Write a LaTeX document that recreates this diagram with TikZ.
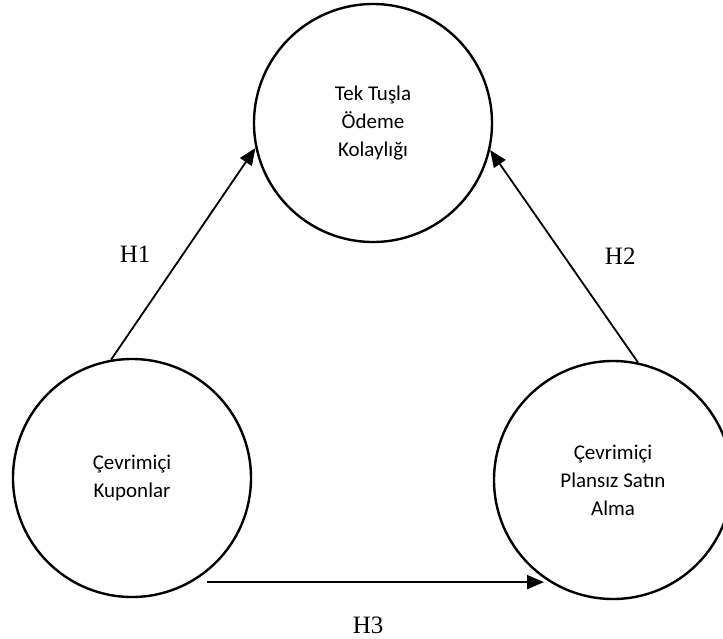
\documentclass[tikz,border=0pt]{standalone}
\usepackage{fontspec}
\setmainfont{Liberation Serif}
\newfontfamily\calibri{Carlito}
\usetikzlibrary{arrows.meta}
\tikzset{
  construct/.style={draw, circle, line width=1.2pt, minimum size=119pt, inner sep=0pt,
    align=center, font=\calibri\fontsize{10.5}{14}\selectfont},
  hyp/.style={line width=0.9pt, -{Triangle[length=8.5pt,width=7pt]}},
  hlabel/.style={inner sep=0pt, font=\fontsize{12.5}{15}\selectfont}
}
\begin{document}
\begin{tikzpicture}[x=0.5pt,y=-0.5pt]
    \useasboundingbox (0,0) rectangle (723,638);
    \clip (0,0) rectangle (723,638);
    % constructs
    \node[construct] (odeme) at (373,123) {Tek Tuşla\\Ödeme\\Kolaylığı};
    \node[construct] (kupon) at (132,478) {Çevrimiçi\\Kuponlar};
    \node[construct] (plansiz) at (613,480) {Çevrimiçi\\Plansız Satın\\Alma};
    % hypotheses
    \draw[hyp] (kupon.100) -- (odeme.192) node[midway, left=16pt, hlabel] (h1) {H1};
    \draw[hyp] (plansiz.78) -- (odeme.-13) node[midway, right=20pt, hlabel] (h2) {H2};
    \draw[hyp, shorten <=7.5pt] (kupon.-60) -- (kupon.-60 -| plansiz.235) node[midway, below=17pt, hlabel] (h3) {H3};
\end{tikzpicture}
\end{document}
